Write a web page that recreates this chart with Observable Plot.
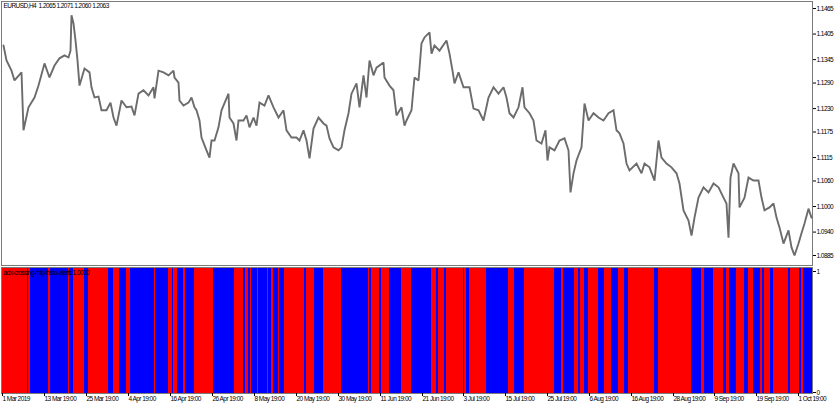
<!DOCTYPE html>
<html><head><meta charset="utf-8">
<script src="https://cdn.jsdelivr.net/npm/d3@7"></script>
<script src="https://cdn.jsdelivr.net/npm/@observablehq/plot@0.6"></script>
<style>
html,body{margin:0;padding:0;background:#fff;}
#wrap{position:relative;width:835px;height:407px;overflow:hidden;background:#fff;}
#wrap svg{position:absolute;left:0;}
#wrap svg text{letter-spacing:-0.55px;}
</style></head><body><div id="wrap"></div>
<script>
// ---- data ----
const chartTitle = "EURUSD,H4  1.2065 1.2071 1.2060 1.2063";
const indicatorTitle = "adx-crossing-mtp-histo-alerts 1.0000";

// bar index (position in the bar sequence) and price
const priceBar = [2,5,10,13,20,22,27,33,37,43,48,53,58,63,67,69,70,72,74,76,78,83,88,90,93,97,100,105,109,112,115,120,125,130,133,137,142,147,152,153,157,162,167,172,173,177,178,182,187,190,193,195,198,200,205,208,210,213,217,220,227,228,232,235,237,242,245,248,252,255,258,263,267,272,277,282,285,290,295,298,302,305,308,312,317,322,325,328,332,337,340,343,347,350,355,358,362,365,368,372,375,382,383,388,392,395,400,403,405,410,413,417,420,423,428,430,433,438,445,448,451,453,457,462,468,472,477,482,487,492,497,502,505,508,512,517,521,523,528,532,535,540,544,546,548,553,558,563,567,569,572,575,580,583,587,592,597,602,607,612,615,618,622,625,628,635,640,643,648,653,657,660,665,670,675,678,682,687,690,693,697,702,707,712,717,722,725,727,729,732,737,738,743,747,752,757,760,763,768,772,775,778,782,787,790,793,797,800,803,807,810];
const priceClose = [1.1378,1.1343,1.1319,1.1296,1.1315,1.1179,1.1233,1.1256,1.1284,1.1336,1.1303,1.1331,1.1348,1.1355,1.1350,1.1366,1.1449,1.1430,1.1390,1.1343,1.1284,1.1324,1.1315,1.1280,1.1256,1.1258,1.1226,1.1226,1.1244,1.1209,1.1190,1.1249,1.1233,1.1235,1.1214,1.1265,1.1273,1.1261,1.1280,1.1254,1.1319,1.1315,1.1308,1.1319,1.1303,1.1291,1.1249,1.1237,1.1244,1.1256,1.1233,1.1226,1.1202,1.1162,1.1132,1.1115,1.1155,1.1155,1.1186,1.1226,1.1265,1.1209,1.1195,1.1155,1.1202,1.1202,1.1214,1.1186,1.1209,1.1190,1.1244,1.1237,1.1261,1.1233,1.1209,1.1226,1.1179,1.1162,1.1162,1.1155,1.1179,1.1155,1.1113,1.1183,1.1209,1.1195,1.1190,1.1160,1.1139,1.1132,1.1139,1.1179,1.1219,1.1265,1.1289,1.1233,1.1308,1.1256,1.1343,1.1308,1.1326,1.1338,1.1303,1.1284,1.1273,1.1214,1.1233,1.1190,1.1202,1.1226,1.1303,1.1296,1.1383,1.1397,1.1409,1.1359,1.1378,1.1366,1.1390,1.1359,1.1319,1.1289,1.1315,1.1280,1.1280,1.1230,1.1226,1.1202,1.1256,1.1280,1.1265,1.1280,1.1256,1.1219,1.1209,1.1233,1.1280,1.1233,1.1219,1.1202,1.1155,1.1148,1.1179,1.1108,1.1139,1.1132,1.1155,1.1160,1.1132,1.1033,1.1078,1.1108,1.1139,1.1242,1.1202,1.1219,1.1209,1.1202,1.1219,1.1226,1.1179,1.1172,1.1148,1.1101,1.1085,1.1101,1.1078,1.1101,1.1092,1.1061,1.1155,1.1115,1.1101,1.1092,1.1078,1.1054,1.0991,1.0967,1.0932,1.0974,1.1021,1.1045,1.1033,1.1054,1.1045,1.1021,1.1007,1.0927,1.1068,1.1101,1.1078,1.0998,1.1021,1.1068,1.1061,1.1061,1.1021,1.0991,1.0998,1.1007,1.0974,1.0951,1.0913,1.0944,1.0904,1.0885,1.0913,1.0937,1.0960,1.0995,1.0974];

const priceTicks = [1.1465,1.1405,1.1345,1.1290,1.1230,1.1175,1.1115,1.1060,1.1000,1.0940,1.0885];

// indicator histogram: segment boundaries (bar index) and signal for each segment
const segBounds = [0,26,27,29,47,49,67,68,72,83,87,107,112,118,125,129,153,154,167,171,172,176,182,184,193,212,233,242,244,247,249,250,256,257,266,267,270,272,277,278,283,303,305,313,322,340,367,368,370,378,380,388,400,410,430,435,437,443,445,462,463,465,468,485,507,513,523,553,560,562,573,577,579,583,587,597,603,610,617,623,627,653,657,690,700,703,712,722,725,728,735,743,747,752,759,761,763,769,772,787,789,798,800,802,805,807,811];
const segSignal = "RBRBRBRBRBRBRBRBRBRBRBRBRBRBRBRBRBRBRBRBRBRBRBRBRBRBRBRBRBRBRBRBRBRBRBRBRBRBRBRBRBRBRBRBRBRBRBRBRBRBRBRB".split("");

const xTickBars = [0,42,84,126,168,210,252,294,336,378,420,461,503,545,587,629,671,712,754,796];
const xTickLabels = ["1 Mar 2019","13 Mar 19:00","25 Mar 19:00","4 Apr 19:00","16 Apr 19:00","26 Apr 19:00","8 May 19:00","20 May 19:00","30 May 19:00","11 Jun 19:00","21 Jun 19:00","3 Jul 19:00","15 Jul 19:00","25 Jul 19:00","6 Aug 19:00","16 Aug 19:00","28 Aug 19:00","9 Sep 19:00","19 Sep 19:00","1 Oct 19:00"];

// ---- build ----
const priceRows = priceBar.map((b, i) => ({bar: b, close: priceClose[i]}));
const segRows = [];
for (let i = 0; i < segBounds.length - 1; i++) {
  segRows.push({start: segBounds[i], end: segBounds[i + 1], signal: segSignal[i] === "R" ? "down" : "up"});
}
const labelMap = new Map(xTickBars.map((b, i) => [b, xTickLabels[i]]));

const FONT = '"Liberation Sans",Arial,sans-serif';
const baseStyle = {fontFamily: FONT, fontSize: "6.5px", background: "white", color: "black", overflow: "visible"};

const pricePlot = Plot.plot({
  width: 835, height: 266,
  marginLeft: 1, marginRight: 23, marginTop: 1, marginBottom: 1,
  style: baseStyle,
  x: {domain: [0, 811], label: null, axis: null},
  y: {domain: [1.086152, 1.148144], label: null},
  marks: [
    Plot.frame({stroke: "#7a7a7a"}),
    Plot.line(priceRows, {x: "bar", y: "close", stroke: "#6c6c6c", strokeWidth: 1.9, strokeLinejoin: "miter", strokeMiterlimit: 2}),
    Plot.axisY({anchor: "right", ticks: priceTicks, tickFormat: d => d.toFixed(4), tickSize: 3, tickPadding: 1, label: null}),
    Plot.text([chartTitle], {frameAnchor: "top-left", dx: 2, dy: 2, fontSize: 6.5, fill: "black"})
  ]
});
pricePlot.style.top = "0px";

const indPlot = Plot.plot({
  width: 835, height: 141,
  marginLeft: 1, marginRight: 23, marginTop: 1, marginBottom: 14,
  style: baseStyle,
  x: {domain: [0, 811], label: null},
  y: {domain: [0, 1], label: null},
  color: {domain: ["down", "up"], range: ["#ff0000", "#0000ff"]},
  marks: [
    Plot.rect(segRows, {x1: "start", x2: "end", y1: 0, y2: 1, fill: "signal", shapeRendering: "crispEdges"}),
    Plot.frame({stroke: "#7a7a7a"}),
    Plot.axisY({anchor: "right", ticks: [1], tickFormat: d => String(d), tickSize: 3, tickPadding: 1, dy: 4, label: null}),
    Plot.axisY({anchor: "right", ticks: [0], tickFormat: d => String(d), tickSize: 3, tickPadding: 1, dy: -1, label: null}),
    Plot.axisX({anchor: "bottom", ticks: xTickBars, tickFormat: d => labelMap.get(d), tickSize: 3, tickPadding: 0, textAnchor: "start", dx: 1, label: null}),
    Plot.text([indicatorTitle], {frameAnchor: "top-left", dx: 2, dy: 3, fontSize: 6.5, fill: "black"})
  ]
});
indPlot.style.top = "266px";

const wrap = document.getElementById("wrap");
wrap.appendChild(pricePlot);
wrap.appendChild(indPlot);
</script>
</body></html>
